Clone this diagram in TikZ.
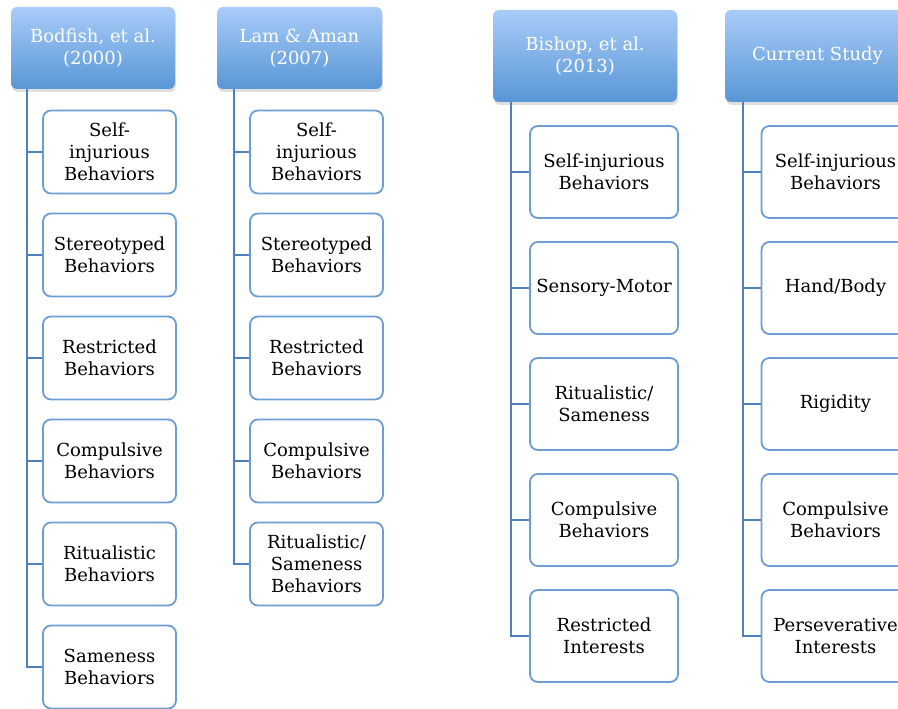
\documentclass[tikz,border=0pt]{standalone}
\usepackage{fontspec}
\setmainfont{DejaVu Serif}
\usetikzlibrary{positioning, shadows}

\definecolor{headtop}{HTML}{A9CCF8}
\definecolor{headbot}{HTML}{5896D6}
\definecolor{itemline}{HTML}{6C9ED3}
\definecolor{branchline}{HTML}{4F80BA}

\tikzset{
  head/.style={rounded corners=6pt, top color=headtop, bottom color=headbot,
    text=white, align=center, font=\fontsize{18}{22.5}\selectfont,
    drop shadow={shadow xshift=1pt, shadow yshift=-3pt, opacity=0.25}},
  item/.style={draw=itemline, line width=1.8pt, rounded corners=8pt, fill=white,
    align=center, font=\fontsize{18}{22}\selectfont},
  smallitem/.style={item, minimum width=133pt, minimum height=83pt},
  bigitem/.style={item, minimum width=148pt, minimum height=92pt},
  branch/.style={draw=branchline, line width=2pt}
}

\begin{document}
\begin{tikzpicture}[x=1pt, y=-1pt, on grid]
  \useasboundingbox (0,0) rectangle (898,709);

  % headers
  \node[head, minimum width=164pt, minimum height=82pt] (bod) at (93,48) {Bodfish, et al.\\(2000)};
  \node[head, minimum width=165pt, minimum height=82pt] (lam) at (299.5,48) {Lam \& Aman\\(2007)};
  \node[head, minimum width=184pt, minimum height=92pt] (bis) at (585,56) {Bishop, et al.\\(2013)};
  \node[head, minimum width=185pt, minimum height=92pt] (cur) at (817.5,56) {Current Study};

  % Bodfish
  \node[smallitem] (bod1) at (109.5,152) {Self-\\injurious\\Behaviors};
  \node[smallitem, below=103pt of bod1] (bod2) {Stereotyped\\Behaviors};
  \node[smallitem, below=103pt of bod2] (bod3) {Restricted\\Behaviors};
  \node[smallitem, below=103pt of bod3] (bod4) {Compulsive\\Behaviors};
  \node[smallitem, below=103pt of bod4] (bod5) {Ritualistic\\Behaviors};
  \node[smallitem, below=103pt of bod5] (bod6) {Sameness\\Behaviors};

  % Lam & Aman
  \node[smallitem] (lam1) at (316.5,152) {Self-\\injurious\\Behaviors};
  \node[smallitem, below=103pt of lam1] (lam2) {Stereotyped\\Behaviors};
  \node[smallitem, below=103pt of lam2] (lam3) {Restricted\\Behaviors};
  \node[smallitem, below=103pt of lam3] (lam4) {Compulsive\\Behaviors};
  \node[smallitem, below=103pt of lam4] (lam5) {Ritualistic/\\Sameness\\Behaviors};

  % Bishop
  \node[bigitem] (bis1) at (604,172) {Self-injurious\\Behaviors};
  \node[bigitem, below=116pt of bis1] (bis2) {Sensory-Motor};
  \node[bigitem, below=116pt of bis2] (bis3) {Ritualistic/\\Sameness};
  \node[bigitem, below=116pt of bis3] (bis4) {Compulsive\\Behaviors};
  \node[bigitem, below=116pt of bis4] (bis5) {Restricted\\Interests};

  % Current Study
  \node[bigitem] (cur1) at (835.5,172) {Self-injurious\\Behaviors};
  \node[bigitem, below=116pt of cur1] (cur2) {Hand/Body};
  \node[bigitem, below=116pt of cur2] (cur3) {Rigidity};
  \node[bigitem, below=116pt of cur3] (cur4) {Compulsive\\Behaviors};
  \node[bigitem, below=116pt of cur4] (cur5) {Perseverative\\Interests};

  % branches
  \coordinate (bodb) at ([xshift=16pt]bod.south west);
  \coordinate (lamb) at ([xshift=17pt]lam.south west);
  \coordinate (bisb) at ([xshift=18pt]bis.south west);
  \coordinate (curb) at ([xshift=18pt]cur.south west);
  \foreach \i in {1,...,6} \draw[branch] (bodb) |- (bod\i.west);
  \foreach \i in {1,...,5} \draw[branch] (lamb) |- (lam\i.west);
  \foreach \i in {1,...,5} \draw[branch] (bisb) |- (bis\i.west);
  \foreach \i in {1,...,5} \draw[branch] (curb) |- (cur\i.west);
\end{tikzpicture}
\end{document}
